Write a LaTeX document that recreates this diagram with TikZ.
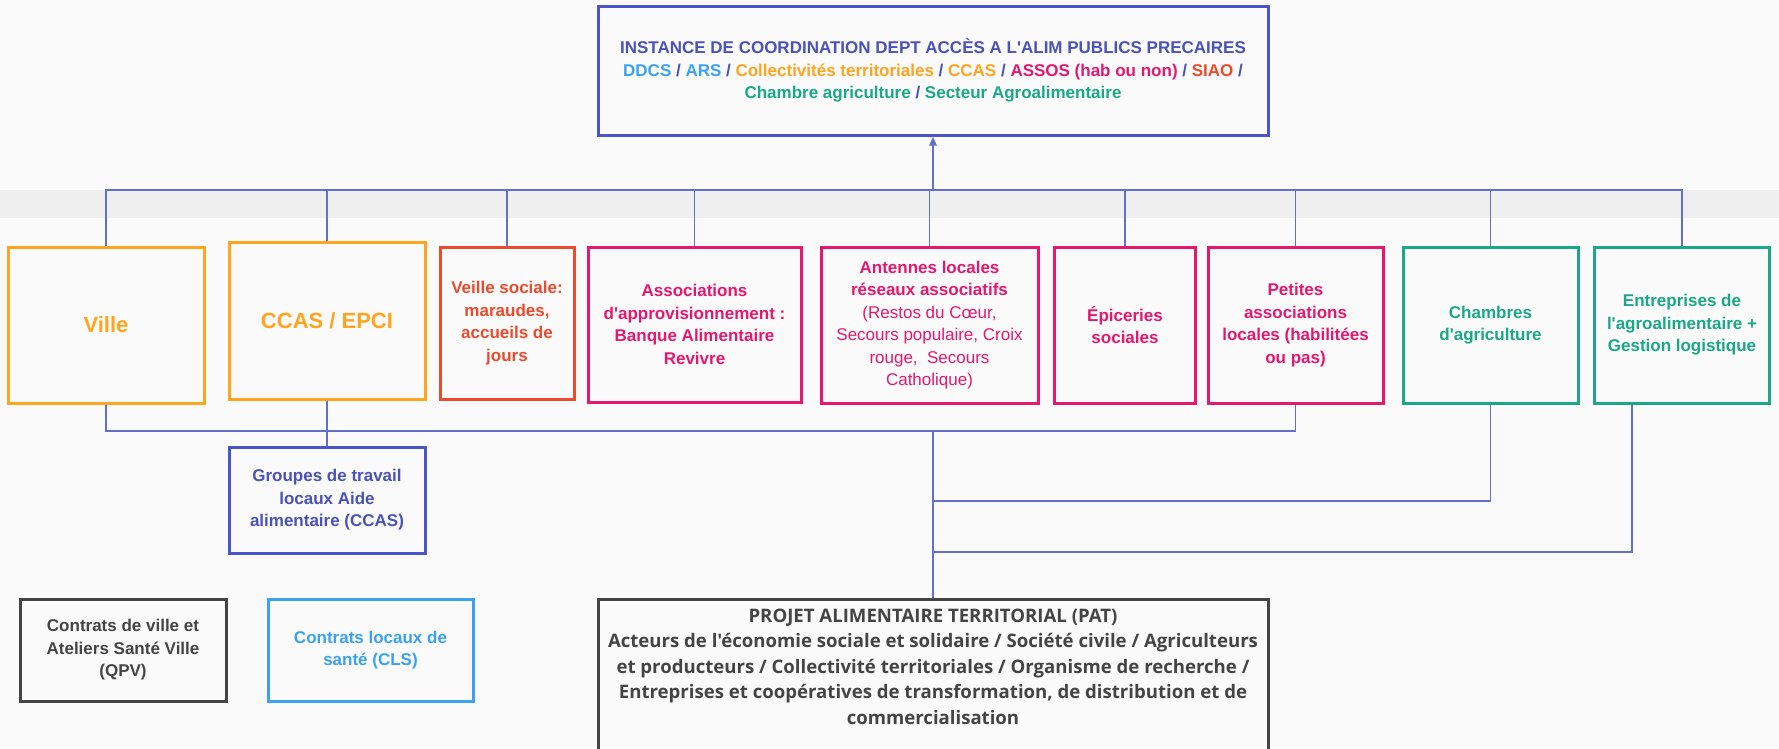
\documentclass[tikz,border=0pt]{standalone}
\usepackage{fontspec}
\setmainfont{Liberation Sans}[Ligatures=TeXOff]
\newfontfamily\patfont{Open Sans}[Ligatures=TeXOff]
\usetikzlibrary{arrows.meta,calc}
\definecolor{bgc}{HTML}{FAFAFA}
\definecolor{bandc}{HTML}{EFEFEF}
\definecolor{indigo}{HTML}{4A52B8}
\definecolor{indigob}{HTML}{4A55C8}
\definecolor{connc}{HTML}{6470C8}
\definecolor{orangec}{HTML}{FFA41F}
\definecolor{redc}{HTML}{EC4A2C}
\definecolor{pinkc}{HTML}{E5186E}
\definecolor{tealc}{HTML}{1AA886}
\definecolor{lbluec}{HTML}{3AA2F0}
\definecolor{darkc}{HTML}{444444}
\begin{document}
\begin{tikzpicture}[x=1pt,y=-1pt,
  box/.style={draw, line width=3pt, rectangle, inner sep=0pt, align=center,
    font=\bfseries\fontsize{17}{22.5}\selectfont},
  bigtxt/.style={font=\bfseries\fontsize{22}{26}\selectfont},
  conn/.style={draw=connc, line width=1.8pt},
  arr/.style={draw=connc, line width=2.6pt, -{Triangle[length=9pt,width=7pt]}}
]
\fill[bgc] (0,0) rectangle (1779,748);
\useasboundingbox (0,0) rectangle (1779,748);
\fill[bandc] (0,190) rectangle (1779,218);

% top box
\node[box, draw=indigob, minimum width=670pt, minimum height=129pt] (top) at (933,70.5)
 {\textcolor{indigo}{INSTANCE DE COORDINATION DEPT ACCÈS A L'ALIM PUBLICS PRECAIRES}\\
  \textcolor{lbluec}{DDCS} \textcolor{indigo}{/} \textcolor{lbluec}{ARS} \textcolor{indigo}{/} \textcolor{orangec}{Collectivités territoriales} \textcolor{indigo}{/} \textcolor{orangec}{CCAS} \textcolor{indigo}{/} \textcolor{pinkc}{ASSOS (hab ou non)} \textcolor{indigo}{/} \textcolor{redc}{SIAO} \textcolor{indigo}{/}\\
  \textcolor{tealc}{Chambre agriculture} \textcolor{indigo}{/} \textcolor{tealc}{Secteur Agroalimentaire}};

% row of boxes
\node[box, bigtxt, draw=orangec, text=orangec, minimum width=196pt, minimum height=156pt] (ville) at (106,325) {Ville};
\node[box, bigtxt, draw=orangec, text=orangec, minimum width=196pt, minimum height=157pt] (ccas) at (327,320.5) {CCAS / EPCI};
\node[box, draw=redc, text=redc, minimum width=134pt, minimum height=152pt] (veille) at (507,323) {Veille sociale:\\maraudes,\\accueils de\\jours};
\node[box, draw=pinkc, text=pinkc, minimum width=213pt, minimum height=155pt] (assoc) at (694.5,324.5) {Associations\\d'approvisionnement :\\Banque Alimentaire\\Revivre};
\node[box, draw=pinkc, text=pinkc, minimum width=217pt, minimum height=156pt] (antennes) at (929.5,325) {Antennes locales\\réseaux associatifs\\\mdseries(Restos du Cœur,\\\mdseries Secours populaire, Croix\\\mdseries rouge,~ Secours\\\mdseries Catholique)};
\node[box, draw=pinkc, text=pinkc, minimum width=141pt, minimum height=156pt] (epiceries) at (1125,325) {Épiceries\\sociales};
\node[box, draw=pinkc, text=pinkc, minimum width=175pt, minimum height=156pt] (petites) at (1295.5,325) {Petites\\associations\\locales (habilitées\\ou pas)};
\node[box, draw=tealc, text=tealc, minimum width=175pt, minimum height=156pt] (chambres) at (1490.5,325) {Chambres\\d'agriculture};
\node[box, draw=tealc, text=tealc, minimum width=175pt, minimum height=156pt] (entreprises) at (1682,325) {Entreprises de\\l'agroalimentaire +\\Gestion logistique};

% lower boxes
\node[box, draw=indigob, text=indigo, minimum width=196pt, minimum height=106pt] (groupes) at (327,500) {Groupes de travail\\locaux Aide\\alimentaire (CCAS)};
\node[box, draw=darkc, text=darkc, minimum width=206pt, minimum height=102pt] (contrats) at (123,650) {Contrats de ville et\\Ateliers Santé Ville\\(QPV)};
\node[box, draw=lbluec, text=lbluec, minimum width=205pt, minimum height=102pt] (cls) at (370.5,650) {Contrats locaux de\\santé (CLS)};
\node[box, draw=darkc, minimum width=670pt, minimum height=200pt, anchor=north,
  label={[anchor=north, yshift=-7pt, align=center, text=darkc, font=\patfont\bfseries\fontsize{18.6}{25.5}\selectfont]north:{PROJET ALIMENTAIRE TERRITORIAL (PAT)\\Acteurs de l'économie sociale et solidaire / Société civile / Agriculteurs\\et producteurs / Collectivité territoriales / Organisme de recherche /\\Entreprises et coopératives de transformation, de distribution et de\\commercialisation}}] (pat) at (933,598) {};

% junctions
\coordinate (topin) at (933,190);
\coordinate (patin) at (933,431);
\coordinate (j1) at (933,501);
\coordinate (j2) at (933,552);

% upper connectors
\foreach \n in {ville,ccas,veille,assoc,antennes,epiceries,petites,chambres,entreprises}
  \draw[conn] (\n.north) |- (topin);
\draw[arr] (topin) -- (top.south);

% lower connectors
\draw[conn] (ville.south) |- (patin);
\draw[conn] (petites.south) |- (patin);
\draw[conn] (ccas.south) -- (groupes.north);
\draw[conn] (chambres.south) |- (j1);
\draw[conn] ([xshift=-50pt]entreprises.south) |- (j2);
\draw[conn] (patin) -- (pat.north);
\end{tikzpicture}
\end{document}
